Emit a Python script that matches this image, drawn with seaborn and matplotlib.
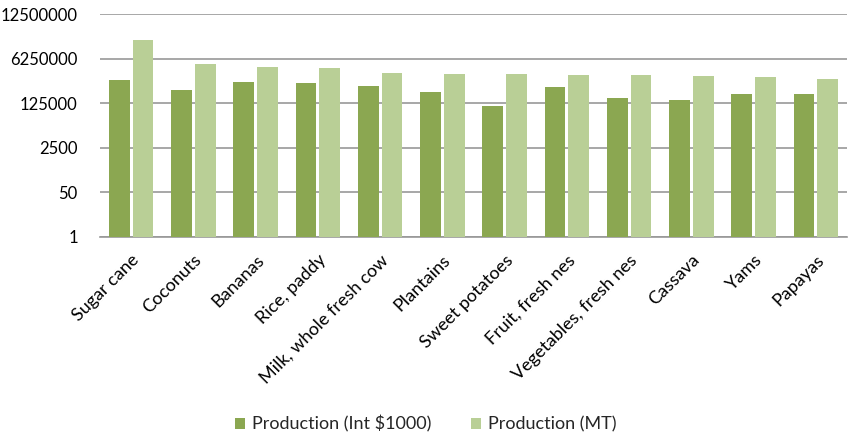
import matplotlib
matplotlib.use("Agg")
import matplotlib.pyplot as plt
import seaborn as sns
import pandas as pd
import numpy as np
from matplotlib.ticker import FixedLocator, FixedFormatter

categories = ["Sugar cane", "Coconuts", "Bananas", "Rice, paddy", "Milk, whole fresh cow",
              "Plantains", "Sweet potatoes", "Fruit, fresh nes", "Vegetables, fresh nes",
              "Cassava", "Yams", "Papayas"]
prod_int = [990000, 400000, 808000, 741000, 584000, 335000, 100000, 535000, 209000,
            166000, 297000, 297000]
prod_mt = [32700000, 4060000, 3110000, 2930000, 1840000, 1730000, 1680000, 1540000,
           1500000, 1410000, 1290000, 1050000]
series = ["Production (Int $1000)", "Production (MT)"]
tick_values = [1, 50, 2500, 125000, 6250000, 312500000]
tick_labels = ["1", "50", "2500", "125000", "6250000", "12500000"]

df = pd.DataFrame({
    "crop": categories * 2,
    "series": [series[0]] * len(categories) + [series[1]] * len(categories),
    "value": prod_int + prod_mt,
})

sns.set_theme(style="white")
plt.rcParams["font.family"] = ["Lato", "DejaVu Sans"]

fig = plt.figure(figsize=(8.53, 4.40), dpi=100)
ax = fig.add_axes([100 / 853, 1 - 236.7 / 440, 747 / 853, (236.7 - 14.5) / 440])

palette = {series[0]: "#8BA751", series[1]: "#B9CF96"}
sns.barplot(data=df, x="crop", y="value", hue="series", palette=palette, ax=ax,
            width=0.76, gap=0.12, saturation=1, legend=True, zorder=3,
            linewidth=0, edgecolor="none")

ax.set_yscale("log", base=50)
ax.set_ylim(1, 312500000)
ax.yaxis.set_major_locator(FixedLocator(tick_values))
ax.yaxis.set_major_formatter(FixedFormatter(tick_labels))
ax.yaxis.set_minor_locator(FixedLocator([]))
ax.set_xlim(-0.5, len(categories) - 0.5)
ax.grid(axis="y", color="#989898", linewidth=1.2, zorder=0)
ax.set_axisbelow(True)
for s in ["top", "right", "left"]:
    ax.spines[s].set_visible(False)
ax.spines["bottom"].set_color("#989898")
ax.spines["bottom"].set_linewidth(1.2)
ax.set_xlabel("")
ax.set_ylabel("")
ax.tick_params(axis="y", length=0, pad=16, labelsize=12, labelcolor="#000000")
ax.tick_params(axis="x", length=0, pad=11, labelsize=13, labelcolor="#000000")
plt.setp(ax.get_xticklabels(), rotation=45, ha="right", rotation_mode="anchor")

handles, labels = ax.get_legend_handles_labels()
ax.legend_.remove()
fig.legend(handles, labels, loc="center", bbox_to_anchor=(426 / 853, 1 - 424 / 440),
           ncol=2, frameon=False, fontsize=13, handlelength=0.55, handleheight=0.55,
           handletextpad=0.4, columnspacing=2.2)

fig.savefig("out.png", dpi=100)
